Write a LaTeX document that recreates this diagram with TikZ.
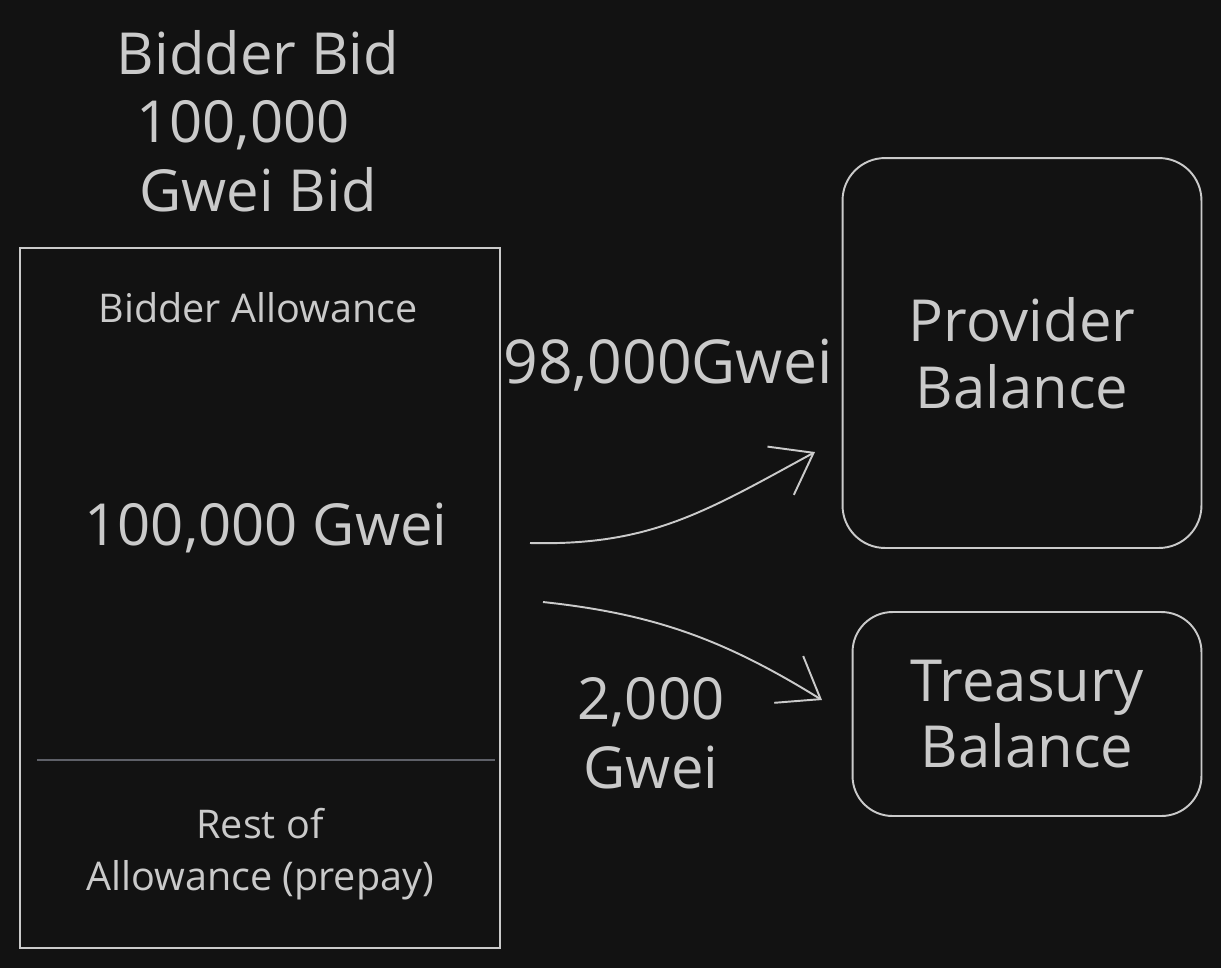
\documentclass[tikz,border=0pt]{standalone}
\usepackage{fontspec}
\setmainfont{Open Sans}
\usetikzlibrary{arrows.meta}
\definecolor{bgdark}{HTML}{121212}
\definecolor{chalk}{HTML}{CACACA}
\definecolor{rulegrey}{HTML}{5E6068}
\begin{document}
\begin{tikzpicture}[x=0.02cm, y=-0.02cm,
    box/.style={draw=chalk, line width=1.1pt},
    balance/.style={box, rounded corners=0.85cm, text=chalk, align=center,
      font=\fontsize{33}{38}\selectfont},
    bigtext/.style={text=chalk, align=center, font=\fontsize{33}{39}\selectfont},
    smalltext/.style={text=chalk, align=center, font=\fontsize{22.5}{29.5}\selectfont},
    flow/.style={draw=chalk, line width=1.1pt, -{Straight Barb[length=0.75cm, width=1.1cm]}}]
  \fill[bgdark] (0,0) rectangle (1221,968);
  \useasboundingbox (0,0) rectangle (1221,968);
  % left column
  \node[bigtext] (bid) at (258,121) {Bidder Bid\\100,000\hspace{0.6cm}\mbox{}\\Gwei Bid};
  \node[box, minimum width=9.6cm, minimum height=14cm] (allowance) at (260,598) {};
  \node[smalltext] (allowtitle) at (258,308) {Bidder Allowance};
  \node[bigtext] (amount) at (266,528) {100,000 Gwei};
  \draw[rulegrey, line width=0.9pt] (37,760) -- (495,760);
  \node[smalltext] (prepay) at (260,854) {Rest of\\Allowance (prepay)};
  % right column
  \node[balance, minimum width=7.18cm, minimum height=7.8cm] (provider) at (1022,353) {Provider\\Balance};
  \node[balance, rounded corners=0.8cm, minimum width=6.98cm, minimum height=4.08cm] (treasury) at (1027,714) {Treasury\\Balance};
  % flows
  \node[bigtext, font=\fontsize{34.5}{39}\selectfont] (fee) at (668,365) {98,000Gwei};
  \node[bigtext] (cut) at (651,733) {2,000\\Gwei};
  \coordinate (p1) at (530,543);
  \coordinate (p2) at (815,452);
  \coordinate (t1) at (543,602);
  \coordinate (t2) at (822,700);
  \draw[flow] (p1) .. controls (650,546) and (705,512) .. (p2);
  \draw[flow] (t1) .. controls (655,614) and (725,640) .. (t2);
\end{tikzpicture}
\end{document}
